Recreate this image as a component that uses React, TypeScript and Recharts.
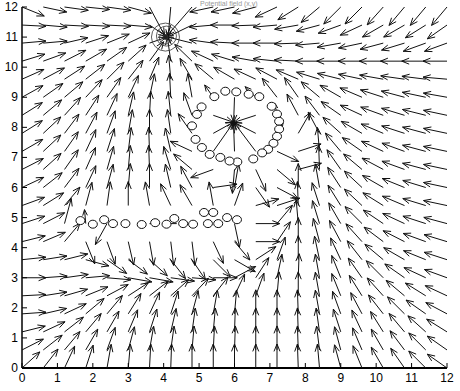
import React from 'react';
import { ScatterChart, Scatter, XAxis, YAxis } from 'recharts';

// Quiver grid (x and y positions of the arrow tails)
const GRID_X = [0, 0.6, 1.2, 1.8, 2.4, 3, 3.6, 4.2, 4.8, 5.4, 6, 6.6, 7.2, 7.8, 8.4, 9, 9.6, 10.2, 10.8, 11.4, 12];
const GRID_Y = [0, 0.6, 1.2, 1.8, 2.4, 3, 3.6, 4.2, 4.8, 5.4, 6, 6.6, 7.2, 7.8, 8.4, 9, 9.6, 10.2, 10.8, 11.4, 12];

// Arrow directions in degrees (0 = right, 90 = up), one row per GRID_Y value (bottom to top)
const ANGLE_ROWS: (number | null)[][] = [
  [42, 52, 65, 72, 80, 85, 87, 88, 90, 90, 90, 90, 90, 92, 95, 105, 112, 120, 125, 135, 145],
  [27, 38, 50, 60, 70, 75, 80, 82, 85, 87, 88, 90, 90, 92, 97, 105, 113, 120, 127, 135, 145],
  [14, 25, 38, 50, 60, 67, 72, 77, 82, 85, 88, 90, 90, 92, 98, 108, 115, 122, 130, 138, 148],
  [4, 13, 25, 40, 50, 58, 65, 72, 75, 80, 85, 90, 90, 92, 100, 110, 118, 128, 135, 145, 152],
  [3, 9, 16, 22, 28, 33, 38, 42, 47, 52, 65, 70, 85, 90, 100, 112, 122, 132, 140, 148, 155],
  [0, 4, 8, 5, -5, -10, -10, -8, -5, 0, 28, 57, 78, 88, 100, 112, 125, 135, 145, 155, 160],
  [6, 9, 14, -15, -35, -37, -42, -52, -56, -45, -30, 33, 70, 90, 102, 115, 128, 140, 150, 158, 162],
  [14, 23, 50, -68, -70, -77, -80, -83, -83, -65, -50, 0, 56, 90, 105, 118, 132, 143, 153, 160, 163],
  [18, 27, 75, 95, -119, null, 0, 0, null, null, -78, 0, 50, 95, 107, 120, 135, 146, 155, 162, 165],
  [20, 32, 50, 75, 82, 90, 100, 115, 120, 100, 70, 16, 18, 92, 108, 122, 137, 148, 157, 163, 168],
  [25, 38, 53, 65, 75, 85, 90, 103, 118, 8, 80, -55, -28, 90, 100, 123, 137, 150, 158, 163, 168],
  [27, 42, 55, 66, 74, 85, 92, 107, 140, -160, -95, -65, -40, 15, 92, 125, 140, 152, 160, 165, 168],
  [30, 43, 55, 65, 72, 83, 92, 103, 155, 55, 92, 127, -25, 18, 95, 130, 145, 155, 160, 165, 168],
  [32, 43, 53, 62, 70, 80, 90, 98, 125, 29, 95, 153, 60, 60, 118, 138, 150, 157, 162, 165, 168],
  [32, 40, 48, 57, 65, 77, 87, 96, 110, -19, -98, -162, 100, 118, 127, 145, 155, 160, 163, 166, 168],
  [29, 35, 40, 47, 55, 65, 78, 93, 100, 125, -92, 135, 128, 125, 140, 150, 157, 162, 165, 168, 170],
  [24, 28, 33, 38, 45, 52, 67, 95, 120, 140, 150, 155, 152, 157, 163, 166, 168, 170, 172, 173, 175],
  [17, 20, 27, 30, 35, 42, 54, 98, 136, 155, 163, 170, 174, 177, 180, 180, 180, 180, 180, 180, 180],
  [5, 5, 13, 18, 22, 25, 19, 120, 166, 172, 177, 180, 180, -178, -175, -170, -168, -165, -163, -160, -160],
  [-3, -5, -3, -3, -3, -5, -34, -106, -154, -175, 180, -178, -175, -170, -165, -160, -155, -150, -150, -148, -145],
  [-22, -12, -8, -6, -8, -15, -62, -95, -131, -168, -168, -165, -155, -148, -140, -135, -135, -132, -130, -130, -130],
];

const DEFAULT_LEN = 24;
// [column index, row index, arrow length in px]
const LENGTH_OVERRIDES: [number, number, number][] = [
  [6, 8, 6], [7, 8, 6], [2, 8, 26], [3, 8, 14],
  [7, 18, 8], [7, 19, 13], [7, 20, 30], [6, 18, 17], [6, 19, 20], [6, 20, 32],
  [8, 18, 27], [8, 19, 29], [8, 20, 38],
  [9, 12, 36], [9, 13, 23], [9, 14, 21], [9, 15, 15],
  [10, 12, 29], [10, 13, 11], [10, 14, 8], [10, 15, 25],
  [11, 12, 36], [11, 13, 24], [11, 14, 23], [11, 15, 15],
  [12, 13, 12], [12, 14, 12],
];

const RING_OBSTACLES = [
  { x: 4.8, y: 8.05 }, { x: 4.94, y: 8.43 }, { x: 5.07, y: 8.68 }, { x: 5.43, y: 9.02 }, { x: 5.74, y: 9.2 },
  { x: 6.05, y: 9.18 }, { x: 6.4, y: 9.1 }, { x: 6.7, y: 9.02 }, { x: 7.05, y: 8.7 }, { x: 7.2, y: 8.44 },
  { x: 7.26, y: 8.2 }, { x: 7.26, y: 7.94 }, { x: 7.2, y: 7.7 }, { x: 7.1, y: 7.47 }, { x: 6.95, y: 7.27 },
  { x: 6.78, y: 7.15 }, { x: 6.53, y: 6.95 }, { x: 6.08, y: 6.85 }, { x: 5.86, y: 6.88 }, { x: 5.6, y: 7.0 },
  { x: 5.3, y: 7.1 }, { x: 5.08, y: 7.33 }, { x: 4.9, y: 7.6 },
];
const ROW_OBSTACLES = [
  { x: 1.65, y: 4.9 }, { x: 2.0, y: 4.78 }, { x: 2.32, y: 4.93 }, { x: 2.57, y: 4.8 }, { x: 2.92, y: 4.8 },
  { x: 3.38, y: 4.77 }, { x: 3.76, y: 4.83 }, { x: 4.08, y: 4.78 }, { x: 4.3, y: 4.97 }, { x: 4.55, y: 4.8 },
  { x: 4.83, y: 4.78 }, { x: 5.14, y: 5.17 }, { x: 5.4, y: 5.17 }, { x: 5.25, y: 4.8 }, { x: 5.54, y: 4.8 },
  { x: 5.79, y: 5.0 }, { x: 6.07, y: 4.93 },
];
const GOAL = [{ x: 4.05, y: 11.0 }];
const TICKS = [0, 1, 2, 3, 4, 5, 6, 7, 8, 9, 10, 11, 12];
const TITLE = 'Potential field (x,y)';

const arrows: { x: number; y: number; a: number; len: number }[] = [];
ANGLE_ROWS.forEach((row, j) =>
  row.forEach((a, i) => {
    if (a === null) return;
    const ov = LENGTH_OVERRIDES.find((o) => o[0] === i && o[1] === j);
    arrows.push({ x: GRID_X[i], y: GRID_Y[j], a, len: ov ? ov[2] : DEFAULT_LEN });
  })
);

const FONT = '"Liberation Sans", Arial, sans-serif';

const ArrowShape = (props: any) => {
  const { cx, cy, payload } = props;
  if (cx == null || cy == null) return <g />;
  const L = payload.len;
  const r = (payload.a * Math.PI) / 180;
  const x2 = cx + L * Math.cos(r);
  const y2 = cy - L * Math.sin(r);
  const h = Math.min(8, L * 0.45);
  const ha = (22 * Math.PI) / 180;
  const b = r + Math.PI;
  const h1x = x2 + h * Math.cos(b + ha);
  const h1y = y2 - h * Math.sin(b + ha);
  const h2x = x2 + h * Math.cos(b - ha);
  const h2y = y2 - h * Math.sin(b - ha);
  const d = L < 8 ? `M${cx},${cy}L${x2},${y2}` : `M${cx},${cy}L${x2},${y2}M${h1x},${h1y}L${x2},${y2}L${h2x},${h2y}`;
  return <path d={d} stroke="#111" strokeWidth={1} fill="none" />;
};

const CircleShape = (props: any) => {
  const { cx, cy } = props;
  if (cx == null) return <g />;
  return <ellipse cx={cx} cy={cy} rx={4.5} ry={4} stroke="#111" strokeWidth={1} fill="#fff" />;
};

const GoalShape = (props: any) => {
  const { cx, cy } = props;
  if (cx == null) return <g />;
  return (
    <g fill="none" stroke="#333" strokeWidth={0.8}>
      <circle cx={cx} cy={cy} r={14} />
      <circle cx={cx + 1} cy={cy - 1} r={10} />
      <circle cx={cx} cy={cy + 1} r={6} />
      <circle cx={cx} cy={cy} r={2.5} fill="#222" />
    </g>
  );
};

const BottomTick = (props: any) => {
  const { x, y, payload } = props;
  return (
    <g>
      <line x1={x} y1={y} x2={x} y2={y - 5} stroke="#000" />
      <text x={x} y={y + 14} textAnchor="middle" fontSize={12} fontFamily={FONT} fill="#000">
        {payload.value}
      </text>
    </g>
  );
};
const LeftTick = (props: any) => {
  const { x, y, payload } = props;
  return (
    <g>
      <line x1={x} y1={y} x2={x + 5} y2={y} stroke="#000" />
      <text x={x - 4} y={y + 4} textAnchor="end" fontSize={12} fontFamily={FONT} fill="#000">
        {payload.value}
      </text>
    </g>
  );
};
const TopTick = (props: any) => {
  const { x, y } = props;
  return <line x1={x} y1={y} x2={x} y2={y + 5} stroke="#666" />;
};
const RightTick = (props: any) => {
  const { x, y } = props;
  return <line x1={x} y1={y} x2={x - 5} y2={y} stroke="#666" />;
};

export default function App() {
  return (
    <div style={{ position: 'absolute', left: 0, top: 0, width: 460, height: 391, background: '#fff', overflow: 'hidden' }}>
      <div
        style={{
          position: 'absolute', left: 200, top: 0, fontSize: 7, lineHeight: '7px',
          color: '#999', fontFamily: FONT, whiteSpace: 'nowrap',
        }}
      >
        {TITLE}
      </div>
      <ScatterChart width={460} height={391} margin={{ top: 7, right: 13, bottom: 0, left: 0 }}>
        <XAxis
          type="number" dataKey="x" domain={[0, 12]} ticks={TICKS} height={23}
          axisLine={{ stroke: '#000', strokeWidth: 2 }} tickLine={false} tickSize={0} tickMargin={0}
          tick={<BottomTick />} interval={0}
        />
        <YAxis
          type="number" dataKey="y" domain={[0, 12]} ticks={TICKS} width={22}
          axisLine={{ stroke: '#000', strokeWidth: 1.5 }} tickLine={false} tickSize={0} tickMargin={0}
          tick={<LeftTick />} interval={0}
        />
        <XAxis
          xAxisId="top" orientation="top" type="number" dataKey="x" domain={[0, 12]} ticks={TICKS} height={0}
          axisLine={{ stroke: '#777', strokeWidth: 1 }} tickLine={false} tickSize={0} tickMargin={0}
          tick={<TopTick />} interval={0}
        />
        <YAxis
          yAxisId="right" orientation="right" type="number" dataKey="y" domain={[0, 12]} ticks={TICKS} width={0}
          axisLine={{ stroke: '#777', strokeWidth: 1 }} tickLine={false} tickSize={0} tickMargin={0}
          tick={<RightTick />} interval={0}
        />
        <Scatter data={arrows} shape={ArrowShape} isAnimationActive={false} />
        <Scatter data={RING_OBSTACLES} shape={CircleShape} xAxisId="top" yAxisId="right" isAnimationActive={false} />
        <Scatter data={ROW_OBSTACLES} shape={CircleShape} xAxisId="top" yAxisId="right" isAnimationActive={false} />
        <Scatter data={GOAL} shape={GoalShape} isAnimationActive={false} />
      </ScatterChart>
    </div>
  );
}
